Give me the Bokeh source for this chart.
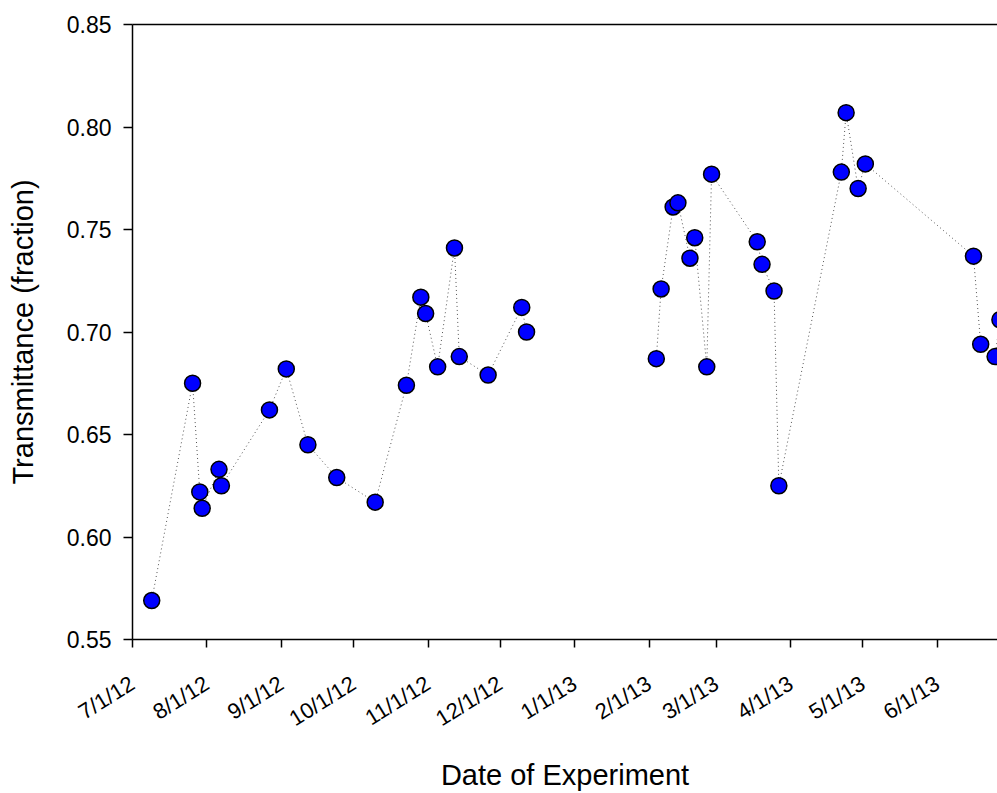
import math
from datetime import datetime

from bokeh.plotting import figure
from bokeh.models import DatetimeAxis, FixedTicker, NumeralTickFormatter, Range1d
from bokeh.embed import file_html
from bokeh.resources import INLINE

# Transmittance measurements, 2012 campaign
dates_2012 = ["2012-07-09", "2012-07-26", "2012-07-29", "2012-07-30", "2012-08-06",
              "2012-08-07", "2012-08-27", "2012-09-03", "2012-09-12", "2012-09-24",
              "2012-10-10", "2012-10-23", "2012-10-29", "2012-10-31", "2012-11-05",
              "2012-11-12", "2012-11-14", "2012-11-26", "2012-12-10", "2012-12-12"]
trans_2012 = [0.569, 0.675, 0.622, 0.614, 0.633,
              0.625, 0.662, 0.682, 0.645, 0.629,
              0.617, 0.674, 0.717, 0.709, 0.683,
              0.741, 0.688, 0.679, 0.712, 0.700]

# Transmittance measurements, 2013 campaign
dates_2013 = ["2013-02-04", "2013-02-06", "2013-02-11", "2013-02-13", "2013-02-18",
              "2013-02-20", "2013-02-25", "2013-02-27", "2013-03-18", "2013-03-20",
              "2013-03-25", "2013-03-27", "2013-04-22", "2013-04-24", "2013-04-29",
              "2013-05-02", "2013-06-16", "2013-06-19", "2013-06-25", "2013-06-27"]
trans_2013 = [0.687, 0.721, 0.761, 0.763, 0.736,
              0.746, 0.683, 0.777, 0.744, 0.733,
              0.720, 0.625, 0.778, 0.807, 0.770,
              0.782, 0.737, 0.694, 0.688, 0.706]

tick_dates = ["2012-07-01", "2012-08-01", "2012-09-01", "2012-10-01", "2012-11-01",
              "2012-12-01", "2013-01-01", "2013-02-01", "2013-03-01", "2013-04-01",
              "2013-05-01", "2013-06-01", "2013-07-01"]
tick_labels = ["7/1/12", "8/1/12", "9/1/12", "10/1/12", "11/1/12", "12/1/12", "1/1/13",
               "2/1/13", "3/1/13", "4/1/13", "5/1/13", "6/1/13", "7/1/13"]
y_ticks = [0.55, 0.60, 0.65, 0.70, 0.75, 0.80, 0.85]

x_start, x_end = "2012-07-01", "2013-06-26"
y_start, y_end = 0.55, 0.85

FONT = "Liberation Sans"
LABEL_ANGLE = math.radians(32)


def to_ms(s):
    return int((datetime.strptime(s, "%Y-%m-%d") - datetime(1970, 1, 1)).total_seconds() * 1000)


x12 = [to_ms(d) for d in dates_2012]
x13 = [to_ms(d) for d in dates_2013]
tick_ms = [to_ms(d) for d in tick_dates]

p = figure(width=997, height=793, x_axis_type="datetime",
           x_range=Range1d(to_ms(x_start), to_ms(x_end)),
           y_range=Range1d(y_start, y_end),
           output_backend="svg", toolbar_location=None,
           min_border_left=132, min_border_right=0,
           min_border_top=24, min_border_bottom=154)
p.outline_line_color = None
p.grid.visible = False
p.background_fill_color = "white"
p.border_fill_color = "white"

# dotted connectors within each campaign, then the markers
for xs, ys in ((x12, trans_2012), (x13, trans_2013)):
    p.line(xs, ys, line_color="#555555", line_width=1, line_dash="1 3")
    p.scatter(xs, ys, size=16, fill_color="#0000FF", line_color="black", line_width=1.5)

# axes
p.xaxis.ticker = FixedTicker(ticks=tick_ms)
p.xaxis.major_label_overrides = dict(zip(tick_ms, tick_labels))
p.xaxis.major_label_orientation = LABEL_ANGLE
p.xaxis.axis_label = "Date of Experiment"
p.yaxis.ticker = FixedTicker(ticks=y_ticks)
p.yaxis.formatter = NumeralTickFormatter(format="0.00")
p.yaxis.axis_label = "Transmittance (fraction)"

for ax in (p.xaxis, p.yaxis):
    ax.axis_line_color = "black"
    ax.axis_line_width = 1.5
    ax.major_tick_line_color = "black"
    ax.major_tick_line_width = 1.5
    ax.major_tick_in = 0
    ax.minor_tick_line_color = None
    ax.major_label_text_font = FONT
    ax.major_label_text_font_size = "22px"
    ax.major_label_text_color = "black"
    ax.axis_label_text_font = FONT
    ax.axis_label_text_font_size = "29px"
    ax.axis_label_text_font_style = "normal"
    ax.axis_label_text_color = "black"

p.yaxis.major_label_text_font_size = "23px"
p.yaxis.major_tick_out = 9
p.yaxis.major_label_standoff = 12
p.yaxis.axis_label_standoff = 25
p.xaxis.major_tick_out = 8
p.xaxis.major_label_standoff = 34
p.xaxis.axis_label_standoff = 14

# top frame line
top = DatetimeAxis(ticker=FixedTicker(ticks=[]), axis_line_color="black", axis_line_width=1.5,
                   major_tick_line_color=None, minor_tick_line_color=None,
                   major_label_text_font_size="0px")
p.add_layout(top, "above")

open("out.html", "w").write(file_html(p, INLINE))
